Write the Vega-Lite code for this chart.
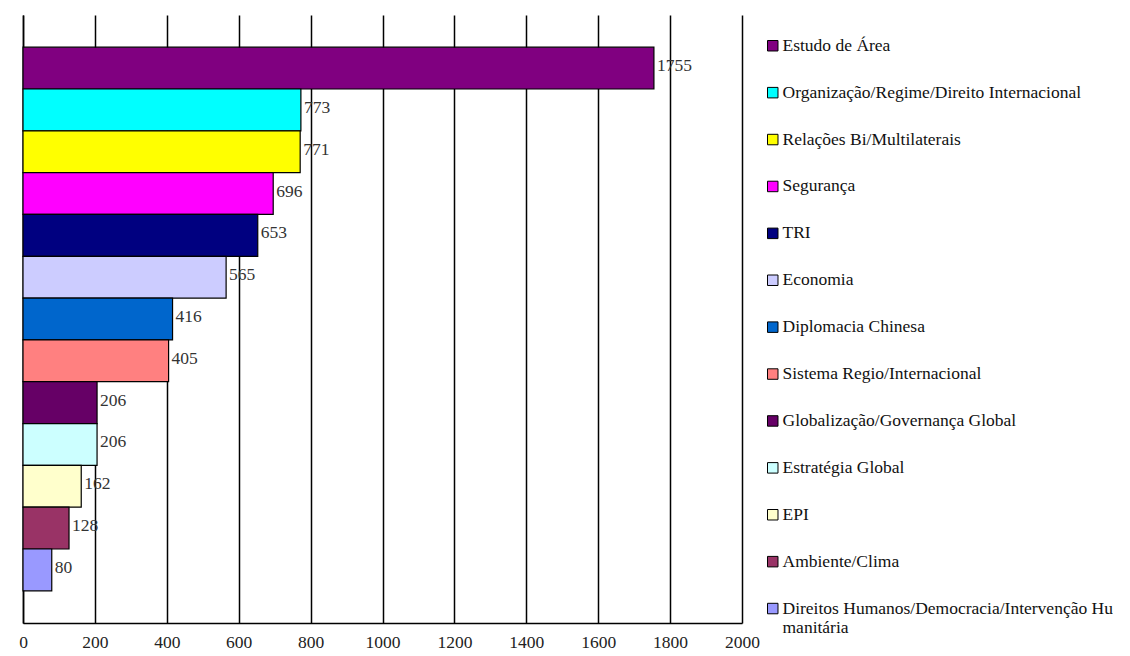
{
  "$schema": "https://vega.github.io/schema/vega-lite/v6.json",
  "width": 719,
  "height": 608,
  "padding": {"left": 18, "top": 15, "right": 0, "bottom": 0},
  "background": "white",
  "config": {
    "view": {"stroke": null},
    "font": "Liberation Serif"
  },
  "data": {
    "values": [
      {"tema": "Estudo de Área", "n": 1755},
      {"tema": "Organização/Regime/Direito Internacional", "n": 773},
      {"tema": "Relações Bi/Multilaterais", "n": 771},
      {"tema": "Segurança", "n": 696},
      {"tema": "TRI", "n": 653},
      {"tema": "Economia", "n": 565},
      {"tema": "Diplomacia Chinesa", "n": 416},
      {"tema": "Sistema Regio/Internacional", "n": 405},
      {"tema": "Globalização/Governança Global", "n": 206},
      {"tema": "Estratégia Global", "n": 206},
      {"tema": "EPI", "n": 162},
      {"tema": "Ambiente/Clima", "n": 128},
      {"tema": "Direitos Humanos/Democracia/Intervenção Humanitária", "n": 80}
    ]
  },
  "encoding": {
    "y": {
      "field": "tema",
      "type": "nominal",
      "sort": null,
      "scale": {"paddingInner": 0, "paddingOuter": 0.77},
      "axis": {"labels": false, "ticks": false, "title": null, "domain": true, "domainColor": "black", "domainWidth": 1.5}
    },
    "x": {
      "field": "n",
      "type": "quantitative",
      "scale": {"domain": [0, 2000], "nice": false},
      "axis": {
        "values": [0, 200, 400, 600, 800, 1000, 1200, 1400, 1600, 1800, 2000],
        "format": "d",
        "title": null,
        "grid": true,
        "gridColor": "black",
        "gridWidth": 1.5,
        "gridOpacity": 1,
        "domainColor": "black",
        "domainWidth": 1.5,
        "ticks": false,
        "labelFont": "Liberation Serif",
        "labelFontSize": 17.5,
        "labelColor": "#222",
        "labelPadding": 10,
        "labelFlush": false
      }
    }
  },
  "layer": [
    {
      "mark": {"type": "bar", "stroke": "black", "strokeWidth": 1.2},
      "encoding": {
        "color": {
          "field": "tema",
          "type": "nominal",
          "scale": {
            "domain": [
              "Estudo de Área",
              "Organização/Regime/Direito Internacional",
              "Relações Bi/Multilaterais",
              "Segurança",
              "TRI",
              "Economia",
              "Diplomacia Chinesa",
              "Sistema Regio/Internacional",
              "Globalização/Governança Global",
              "Estratégia Global",
              "EPI",
              "Ambiente/Clima",
              "Direitos Humanos/Democracia/Intervenção Humanitária"
            ],
            "range": ["#800080", "#00FFFF", "#FFFF00", "#FF00FF", "#000080", "#CCCCFF", "#0066CC", "#FF8080", "#660066", "#CCFFFF", "#FFFFCC", "#993366", "#9999FF"]
          },
          "legend": {
            "title": null,
            "orient": "none",
            "legendX": 741,
            "legendY": 22,
            "padding": 0,
            "symbolType": "square",
            "symbolSize": 110,
            "symbolStrokeColor": "black",
            "symbolStrokeWidth": 1,
            "symbolOpacity": 1,
            "labelFont": "Liberation Serif",
            "labelFontSize": 17.5,
            "labelColor": "#111",
            "labelOffset": 1,
            "labelLimit": 420,
            "rowPadding": 27.9,
            "labelExpr": "datum.label == 'Direitos Humanos/Democracia/Intervenção Humanitária' ? ['Direitos Humanos/Democracia/Intervenção Hu', 'manitária'] : datum.label"
          }
        }
      }
    },
    {
      "mark": {"type": "text", "align": "left", "baseline": "middle", "dx": 3, "dy": -2, "font": "Liberation Serif", "fontSize": 17.5, "color": "#333"},
      "encoding": {
        "text": {"field": "n", "type": "quantitative"}
      }
    }
  ]
}
